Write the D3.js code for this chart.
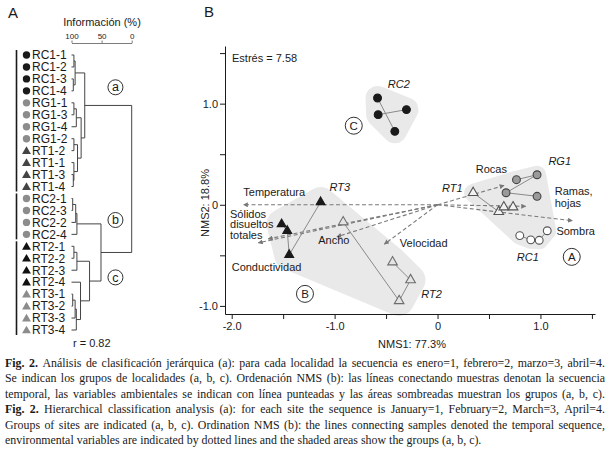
<!DOCTYPE html>
<html>
<head>
<meta charset="utf-8">
<script src="https://cdn.jsdelivr.net/npm/d3@7"></script>
<style>
body { margin: 0; background: #fff; }
svg text { font-family: "Liberation Sans", Arial, sans-serif; fill: #1a1a1a; }
</style>
</head>
<body>
<svg id="fig" width="614" height="460"></svg>
<script>
// ---------------- panel A data (dendrogram)
const leafNames = ["RC1-1","RC1-2","RC1-3","RC1-4","RG1-1","RG1-3","RG1-4","RG1-2",
  "RT1-2","RT1-1","RT1-3","RT1-4","RC2-1","RC2-3","RC2-2","RC2-4",
  "RT2-1","RT2-2","RT2-3","RT2-4","RT3-1","RT3-2","RT3-3","RT3-4"];
// [information %, child, child]
const tree = [0,
  [78, [94, [96,"RC1-1","RC1-2"], [97,"RC1-3","RC1-4"]],
       [84, [92, [96,"RG1-1","RG1-3"], "RG1-4"],
            [90, [96,"RG1-2","RT1-2"], [96,"RT1-1",[97,"RT1-3","RT1-4"]]]]],
  [51, [91, [93, [98,"RC2-1","RC2-3"], "RC2-2"], "RC2-4"],
       [70, [91, [96,"RT2-1","RT2-2"], "RT2-3"],
            [85, "RT2-4", [92, [94, [98,"RT3-1","RT3-2"], "RT3-3"], "RT3-4"]]]]];
const siteMarker = {RC1:["circle","#1a1a1a"], RG1:["circle","#8c8c8c"], RT1:["triangle","#444"],
  RC2:["circle","#8c8c8c"], RT2:["triangle","#111"], RT3:["triangle","#8c8c8c"]};
const infoTicks = [100, 50, 0];
const groupBars = [["RC1-1","RT1-4"], ["RC2-1","RC2-4"], ["RT2-1","RT3-4"]];
// tag, information %, leaf position
const groupTags = [["a", 27, 2.7], ["b", 27, 13.8], ["c", 27, 18.6]];

// ---------------- panel B data (NMS)
const sites = {
  RC2: [[-0.583,1.056],[-0.302,0.941],[-0.577,0.891],[-0.415,0.726]],
  RT3: [[-1.136,0.027],[-1.441,-0.495],[-1.460,-0.257],[-1.515,-0.191]],
  RT2: [[-0.917,-0.171],[-0.373,-0.950],[-0.262,-0.743],[-0.437,-0.567]],
  RT1: [[0.346,0.119],[0.595,-0.069],[0.644,-0.023],[0.734,-0.023]],
  RG1: [[0.767,0.248],[0.967,0.297],[0.666,0.119],[0.967,0.084]],
  RC1: [[0.799,-0.305],[0.906,-0.347],[0.988,-0.351],[1.066,-0.257]]
};
const siteLinks = {
  RC2: [[0,3],[2,1]], RT3: [[0,1],[1,2],[2,3]], RT2: [[0,1],[1,2],[2,3]],
  RT1: [[0,1],[1,2],[2,3]], RG1: [[0,1],[1,2],[2,3]], RC1: [[0,1],[1,2],[2,3]]
};
const siteStyle = {
  RC2: ["circle","#1a1a1a","#1a1a1a"], RT3: ["triangle","#1a1a1a","#1a1a1a"],
  RT2: ["triangle","#e4e4e4","#6e6e6e"], RT1: ["triangle","#f2f2f2","#555"],
  RG1: ["circle","#9a9a9a","#444"], RC1: ["circle","#fff","#555"]
};
const groups = [
  {tag:"A", sites:["RT1","RG1","RC1"], pad:9, at:[1.304,-0.515]},
  {tag:"B", sites:["RT3","RT2"], pad:15, at:[-1.288,-0.881]},
  {tag:"C", sites:["RC2"], pad:12, at:[-0.814,0.782]}
];
const envVars = [
  ["Temperatura", -1.887, 0.0],
  ["Sólidos disueltos totales", -1.645, -0.337],
  ["Conductividad", -1.742, -0.376],
  ["Ancho", -0.978, -0.317],
  ["Velocidad", -0.517, -0.389],
  ["Rocas", 0.647, 0.191],
  ["Ramas, hojas", 0.857, -0.015],
  ["Sombra", 1.311, -0.158]
];
// label lines, start x, centre y (data units)
const envLabels = [
  ["Temperatura", -1.887, 0.126], ["Sólidos", -2.016, -0.092], ["disueltos", -2.016, -0.191],
  ["totales", -2.016, -0.297], ["Conductividad", -2.0, -0.621], ["Ancho", -1.159, -0.347],
  ["Velocidad", -0.366, -0.376], ["Rocas", 0.372, 0.353], ["Ramas,", 1.139, 0.132],
  ["hojas", 1.139, 0.017], ["Sombra", 1.155, -0.264]
];
const siteLabels = [["RC2",-0.376,1.188],["RG1",1.187,0.429],["RT1",0.144,0.165],
  ["RT3",-0.949,0.171],["RT2",-0.058,-0.881],["RC1",0.877,-0.522]];
const xTicks = [-2, -1.5, -1, -0.5, 0, 0.5, 1, 1.5];
const yTicks = [-1, -0.5, 0, 0.5, 1, 1.5];

const caption = [
  ["Fig. 2. Análisis de clasificación jerárquica (a): para cada localidad la secuencia es enero=1, febrero=2, marzo=3, abril=4.", true],
  ["Se indican los grupos de localidades (a, b, c). Ordenación NMS (b): las líneas conectando muestras denotan la secuencia", true],
  ["temporal, las variables ambientales se indican con línea punteadas y las áreas sombreadas muestran los grupos (a, b, c).", true],
  ["Fig. 2. Hierarchical classification analysis (a): for each site the sequence is January=1, February=2, March=3, April=4.", true],
  ["Groups of sites are indicated (a, b, c). Ordination NMS (b): the lines connecting samples denoted the temporal sequence,", true],
  ["environmental variables are indicated by dotted lines and the shaded areas show the groups (a, b, c).", false]
];

const svg = d3.select("#fig");

// ================= panel A
svg.append("text").attr("x", 8).attr("y", 18).style("font-size", "15px").text("A");

const ax = d3.scaleLinear().domain([100, 0]).range([71.5, 131.7]);
const ay = d3.scaleLinear().domain([0, 23]).range([55, 330]);

svg.append("text").attr("x", 102).attr("y", 26).attr("text-anchor", "middle")
  .style("font-size", "11px").text("Información (%)");
const infoAxis = svg.append("g").attr("transform", "translate(0,43)")
  .call(d3.axisTop(ax).tickValues(infoTicks).tickSize(2.5).tickSizeOuter(0).tickPadding(2));
infoAxis.selectAll("text").style("font-size", "8px").style("font-family", "Liberation Sans");
infoAxis.selectAll("line,path").attr("stroke", "#444").attr("stroke-width", 0.7);

function build(n) {
  if (typeof n === "string") return {name: n, h: 100, y: ay(leafNames.indexOf(n))};
  const kids = n.slice(1).map(build);
  return {h: n[0], kids: kids, y: (kids[0].y + kids[kids.length - 1].y) / 2};
}
const root = build(tree);
const dend = svg.append("g").attr("stroke", "#444").attr("stroke-width", 1).attr("fill", "none");
function drawNode(node) {
  if (!node.kids) return;
  const ys = node.kids.map(k => k.y);
  dend.append("line").attr("x1", ax(node.h)).attr("x2", ax(node.h))
    .attr("y1", d3.min(ys)).attr("y2", d3.max(ys));
  node.kids.forEach(k => {
    dend.append("line").attr("x1", ax(k.h)).attr("x2", ax(node.h)).attr("y1", k.y).attr("y2", k.y);
    drawNode(k);
  });
}
drawNode(root);

// leaf markers and labels
leafNames.forEach((n, i) => {
  const m = siteMarker[n.slice(0, 3)];
  const y = ay(i);
  if (m[0] === "circle") {
    svg.append("circle").attr("cx", 26.5).attr("cy", y).attr("r", 3.7).attr("fill", m[1]);
  } else {
    svg.append("path").attr("d", d3.symbol(d3.symbolTriangle, 34)())
      .attr("transform", `translate(26.5,${y + 0.8})`).attr("fill", m[1]);
  }
  svg.append("text").attr("x", 32).attr("y", y).attr("dy", "0.36em")
    .style("font-size", "12px").text(n);
});

groupBars.forEach(b => {
  svg.append("line").attr("x1", 16.5).attr("x2", 16.5)
    .attr("y1", ay(leafNames.indexOf(b[0])) - 5).attr("y2", ay(leafNames.indexOf(b[1])) + 5)
    .attr("stroke", "#1a1a1a").attr("stroke-width", 1.6);
});

groupTags.forEach(t => {
  const cx = ax(t[1]), cy = ay(t[2]);
  svg.append("circle").attr("cx", cx).attr("cy", cy).attr("r", 7.5)
    .attr("fill", "#fff").attr("stroke", "#1a1a1a").attr("stroke-width", 0.9);
  svg.append("text").attr("x", cx).attr("y", cy).attr("dy", "0.33em").attr("text-anchor", "middle")
    .style("font-size", "12.5px").text(t[0]);
});

svg.append("text").attr("x", 73).attr("y", 347).style("font-size", "11px").text("r = 0.82");

// ================= panel B
svg.append("text").attr("x", 204).attr("y", 17).style("font-size", "15px").text("B");

const bx = d3.scaleLinear().domain([-2.065, 1.53]).range([225, 595]);
const by = d3.scaleLinear().domain([-1.08, 1.57]).range([314, 46]);
const P = p => [bx(p[0]), by(p[1])];

// shaded groups: padded convex hull
const hullLine = d3.line().curve(d3.curveLinearClosed);
groups.forEach(g => {
  const pts = g.sites.flatMap(s => sites[s].map(P));
  const hull = d3.polygonHull(pts);
  svg.append("path").attr("d", hullLine(hull))
    .attr("fill", "#e9e9e9").attr("stroke", "#e9e9e9")
    .attr("stroke-width", 2 * g.pad).attr("stroke-linejoin", "round");
});

// axes
const fmt = d => Number.isInteger(d) ? (d === 0 ? "0" : d.toFixed(1)) : "";
const xAxis = svg.append("g").attr("transform", "translate(0,314)")
  .call(d3.axisBottom(bx).tickValues(xTicks).tickFormat(fmt).tickSize(5).tickSizeOuter(0).tickPadding(3));
const yAxis = svg.append("g").attr("transform", "translate(225,0)")
  .call(d3.axisLeft(by).tickValues(yTicks).tickFormat(fmt).tickSize(5).tickSizeOuter(0).tickPadding(2));
[xAxis, yAxis].forEach(a => {
  a.selectAll("text").style("font-size", "11px").style("font-family", "Liberation Sans").attr("fill", "#1a1a1a");
  a.selectAll("line,path").attr("stroke", "#1a1a1a").attr("stroke-width", 1);
});

svg.append("text").attr("x", 412).attr("y", 348).attr("text-anchor", "middle")
  .style("font-size", "11px").text("NMS1: 77.3%");
svg.append("text").attr("transform", "translate(209,203) rotate(-90)").attr("text-anchor", "middle")
  .style("font-size", "11px").text("NMS2: 18.8%");
svg.append("text").attr("x", 232).attr("y", 62).style("font-size", "11px").text("Estrés = 7.58");

// environmental vectors
svg.append("defs").append("marker").attr("id", "ah").attr("viewBox", "0 0 10 10")
  .attr("refX", 9).attr("refY", 5).attr("markerWidth", 5).attr("markerHeight", 5)
  .attr("markerUnits", "userSpaceOnUse").attr("orient", "auto")
  .append("path").attr("d", "M0,0L10,5L0,10z").attr("fill", "#777");
envVars.forEach(v => {
  svg.append("line").attr("x1", bx(0)).attr("y1", by(0)).attr("x2", bx(v[1])).attr("y2", by(v[2]))
    .attr("stroke", "#7a7a7a").attr("stroke-width", 1.1).attr("stroke-dasharray", "4,2.5")
    .attr("marker-end", "url(#ah)");
});

// temporal sequence lines
Object.keys(sites).forEach(s => {
  siteLinks[s].forEach(l => {
    const a = P(sites[s][l[0]]), b = P(sites[s][l[1]]);
    svg.append("line").attr("x1", a[0]).attr("y1", a[1]).attr("x2", b[0]).attr("y2", b[1])
      .attr("stroke", "#8a8a8a").attr("stroke-width", 1);
  });
});

// samples
Object.keys(sites).forEach(s => {
  const st = siteStyle[s];
  sites[s].forEach(p => {
    const q = P(p);
    if (st[0] === "circle") {
      svg.append("circle").attr("cx", q[0]).attr("cy", q[1]).attr("r", 3.9)
        .attr("fill", st[1]).attr("stroke", st[2]).attr("stroke-width", 1.1);
    } else {
      svg.append("path").attr("d", d3.symbol(d3.symbolTriangle, st[1] === "#1a1a1a" ? 34 : 40)())
        .attr("transform", `translate(${q[0]},${q[1]})`)
        .attr("fill", st[1]).attr("stroke", st[2]).attr("stroke-width", 1.1);
    }
  });
});

// labels
envLabels.forEach(l => {
  svg.append("text").attr("x", bx(l[1])).attr("y", by(l[2])).attr("dy", "0.35em")
    .style("font-size", "11px").text(l[0]);
});
siteLabels.forEach(l => {
  svg.append("text").attr("x", bx(l[1])).attr("y", by(l[2])).attr("dy", "0.35em")
    .attr("text-anchor", "middle").style("font-size", "11px").style("font-style", "italic").text(l[0]);
});
groups.forEach(g => {
  const cx = bx(g.at[0]), cy = by(g.at[1]);
  svg.append("circle").attr("cx", cx).attr("cy", cy).attr("r", 8.5)
    .attr("fill", "#fff").attr("stroke", "#1a1a1a").attr("stroke-width", 0.9);
  svg.append("text").attr("x", cx).attr("y", cy).attr("dy", "0.35em").attr("text-anchor", "middle")
    .style("font-size", "11.5px").text(g.tag);
});

// ================= caption (justified)
const capX0 = 5, capW = 600, capY0 = 367, capLH = 15.4;
caption.forEach((c, i) => {
  const words = c[0].split(" ");
  const y = capY0 + i * capLH;
  const nodes = words.map((w, k) => {
    const bold = c[0].startsWith("Fig. 2.") && k < 2;
    return svg.append("text").attr("y", y)
      .style("font-family", "Liberation Serif").style("font-size", "11.9px")
      .style("font-weight", bold ? "bold" : "normal").text(w);
  });
  const widths = nodes.map(n => n.node().getComputedTextLength());
  const sum = d3.sum(widths);
  const gap = c[1] ? (capW - sum) / (words.length - 1) : 3;
  let x = capX0;
  nodes.forEach((n, k) => { n.attr("x", x); x += widths[k] + gap; });
});
</script>
</body>
</html>
